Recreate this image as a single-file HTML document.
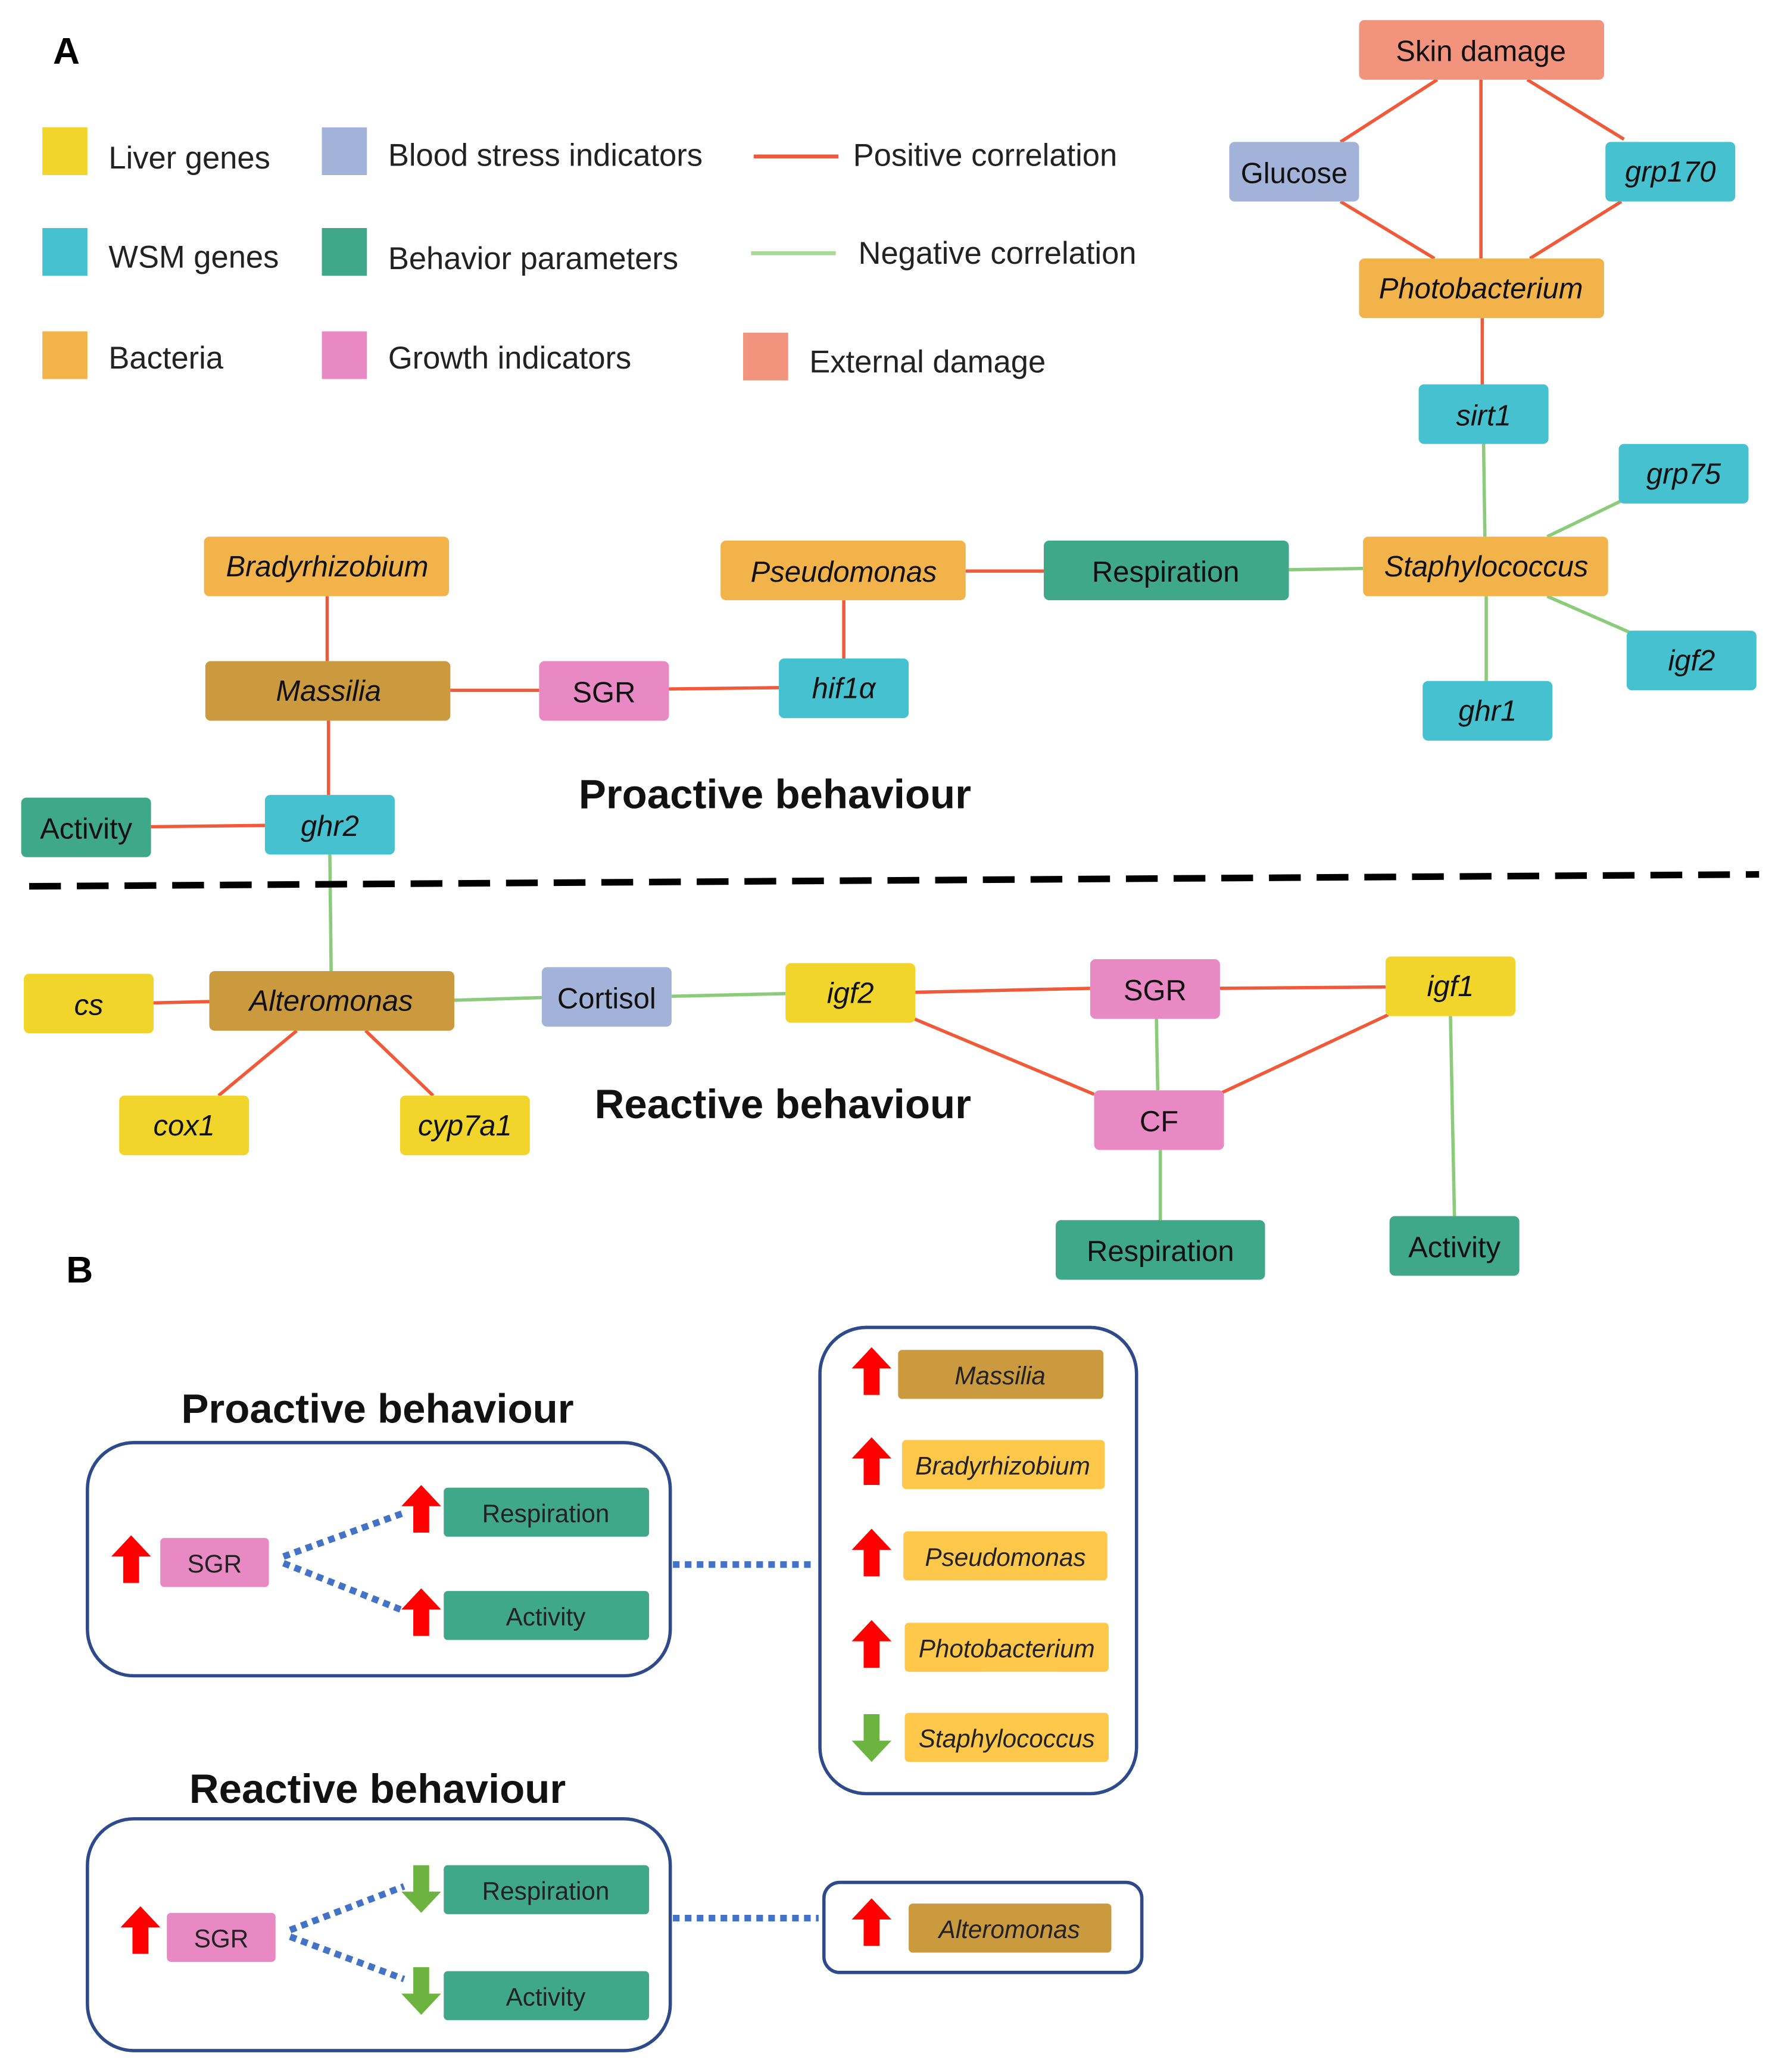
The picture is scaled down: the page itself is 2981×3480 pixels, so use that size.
<!DOCTYPE html>
<html><head><meta charset="utf-8"><style>
html,body{margin:0;padding:0;background:#fff;}
svg{display:block;}
text{font-family:"Liberation Sans",sans-serif;}
</style></head><body>
<svg width="2981" height="3480" viewBox="0 0 1340 1564" xmlns="http://www.w3.org/2000/svg">
<defs>
<symbol id="up" viewBox="0 0 30 36"><polygon points="15,0 30,16 21,16 21,36 9,36 9,16 0,16" fill="#FF0000"/></symbol>
<symbol id="dn" viewBox="0 0 30 36"><polygon points="9,0 21,0 21,20 30,20 15,36 0,20 9,20" fill="#6DB33F"/></symbol>
</defs>
<rect width="1340" height="1564" fill="#fff"/>
<text x="40" y="48" font-size="28" font-weight="bold">A</text>
<text x="50" y="968" font-size="28" font-weight="bold">B</text>
<g font-size="23.6" fill="#222">
<rect x="32" y="96" width="34" height="36" fill="#F2D52B"/><text x="82" y="127">Liver genes</text>
<rect x="32" y="172" width="34" height="36" fill="#45C1D0"/><text x="82" y="202">WSM genes</text>
<rect x="32" y="250" width="34" height="36" fill="#F2B44A"/><text x="82" y="278">Bacteria</text>
<rect x="243" y="96" width="34" height="36" fill="#A2B2D8"/><text x="293" y="125">Blood stress indicators</text>
<rect x="243" y="172" width="34" height="36" fill="#3FA888"/><text x="293" y="203">Behavior parameters</text>
<rect x="243" y="250" width="34" height="36" fill="#E889C4"/><text x="293" y="278">Growth indicators</text>
<line x1="569" y1="118" x2="633" y2="118" stroke="#F05A3A" stroke-width="3"/><text x="644" y="125">Positive correlation</text>
<line x1="567" y1="191" x2="631" y2="191" stroke="#A9D89A" stroke-width="3"/><text x="648" y="199">Negative correlation</text>
<rect x="561" y="251" width="34" height="36" fill="#F2937E"/><text x="611" y="281">External damage</text>
</g>
<g stroke-width="2.5" fill="none">
<g stroke="#F05A3A">
<line x1="1085" y1="60" x2="1012" y2="107"/><line x1="1153" y1="60" x2="1226" y2="105"/>
<line x1="1118" y1="60" x2="1118" y2="195"/>
<line x1="1012" y1="152" x2="1083" y2="195"/><line x1="1224" y1="152" x2="1155" y2="195"/>
<line x1="1119" y1="240" x2="1119" y2="290"/>
<line x1="729" y1="431" x2="788" y2="431"/>
<line x1="637" y1="453" x2="637" y2="497"/>
<line x1="247" y1="450" x2="247" y2="499"/>
<line x1="340" y1="521" x2="407" y2="521"/><line x1="505" y1="520" x2="588" y2="519"/>
<line x1="248" y1="544" x2="248" y2="600"/>
<line x1="114" y1="624" x2="200" y2="623"/>
<line x1="116" y1="757" x2="158" y2="756"/>
<line x1="224" y1="778" x2="165" y2="827"/><line x1="276" y1="778" x2="327" y2="827"/>
<line x1="691" y1="749" x2="823" y2="746"/><line x1="921" y1="746" x2="1046" y2="745"/>
<line x1="690" y1="769" x2="826" y2="826"/><line x1="922" y1="825" x2="1048" y2="766"/>
</g>
<g stroke="#8CCB7C">
<line x1="1120" y1="335" x2="1121" y2="405"/>
<line x1="1168" y1="405" x2="1226" y2="377"/>
<line x1="1168" y1="450" x2="1232" y2="478"/>
<line x1="1122" y1="450" x2="1122" y2="514"/>
<line x1="973" y1="430" x2="1029" y2="429"/>
<line x1="249" y1="645" x2="250" y2="733"/>
<line x1="343" y1="755" x2="409" y2="753"/><line x1="507" y1="752" x2="593" y2="750"/>
<line x1="873" y1="769" x2="874" y2="823"/>
<line x1="876" y1="868" x2="876" y2="921"/>
<line x1="1095" y1="767" x2="1098" y2="918"/>
</g>
</g>
<line x1="22" y1="669" x2="1328" y2="660" stroke="#000" stroke-width="5" stroke-dasharray="24,12"/>
<g font-size="22" text-anchor="middle" fill="#111">
<rect x="1026" y="15" width="185" height="45" rx="4" fill="#F2937E"/><text x="1118" y="46">Skin damage</text>
<rect x="928" y="107" width="98" height="45" rx="4" fill="#A2B2D8"/><text x="977" y="138">Glucose</text>
<rect x="1212" y="107" width="98" height="45" rx="4" fill="#45C1D0"/><text x="1261" y="137" font-style="italic">grp170</text>
<rect x="1026" y="195" width="185" height="45" rx="4" fill="#F2B44A"/><text x="1118" y="225" font-style="italic">Photobacterium</text>
<rect x="1071" y="290" width="98" height="45" rx="4" fill="#45C1D0"/><text x="1120" y="321" font-style="italic">sirt1</text>
<rect x="1222" y="335" width="98" height="45" rx="4" fill="#45C1D0"/><text x="1271" y="365" font-style="italic">grp75</text>
<rect x="1029" y="405" width="185" height="45" rx="4" fill="#F2B44A"/><text x="1122" y="435" font-style="italic">Staphylococcus</text>
<rect x="1228" y="476" width="98" height="45" rx="4" fill="#45C1D0"/><text x="1277" y="506" font-style="italic">igf2</text>
<rect x="1074" y="514" width="98" height="45" rx="4" fill="#45C1D0"/><text x="1123" y="544" font-style="italic">ghr1</text>
<rect x="788" y="408" width="185" height="45" rx="4" fill="#3FA888"/><text x="880" y="439">Respiration</text>
<rect x="544" y="408" width="185" height="45" rx="4" fill="#F2B44A"/><text x="637" y="439" font-style="italic">Pseudomonas</text>
<rect x="154" y="405" width="185" height="45" rx="4" fill="#F2B44A"/><text x="247" y="435" font-style="italic">Bradyrhizobium</text>
<rect x="155" y="499" width="185" height="45" rx="4" fill="#CC9A3E"/><text x="248" y="529" font-style="italic">Massilia</text>
<rect x="407" y="499" width="98" height="45" rx="4" fill="#E889C4"/><text x="456" y="530">SGR</text>
<rect x="588" y="497" width="98" height="45" rx="4" fill="#45C1D0"/><text x="637" y="527" font-style="italic">hif1α</text>
<rect x="16" y="602" width="98" height="45" rx="4" fill="#3FA888"/><text x="65" y="633">Activity</text>
<rect x="200" y="600" width="98" height="45" rx="4" fill="#45C1D0"/><text x="249" y="631" font-style="italic">ghr2</text>
<rect x="158" y="733" width="185" height="45" rx="4" fill="#CC9A3E"/><text x="250" y="763" font-style="italic">Alteromonas</text>
<rect x="18" y="735" width="98" height="45" rx="4" fill="#F2D52B"/><text x="67" y="766" font-style="italic">cs</text>
<rect x="409" y="730" width="98" height="45" rx="4" fill="#A2B2D8"/><text x="458" y="761">Cortisol</text>
<rect x="593" y="727" width="98" height="45" rx="4" fill="#F2D52B"/><text x="642" y="757" font-style="italic">igf2</text>
<rect x="823" y="724" width="98" height="45" rx="4" fill="#E889C4"/><text x="872" y="755">SGR</text>
<rect x="1046" y="722" width="98" height="45" rx="4" fill="#F2D52B"/><text x="1095" y="752" font-style="italic">igf1</text>
<rect x="826" y="823" width="98" height="45" rx="4" fill="#E889C4"/><text x="875" y="854">CF</text>
<rect x="90" y="827" width="98" height="45" rx="4" fill="#F2D52B"/><text x="139" y="857" font-style="italic">cox1</text>
<rect x="302" y="827" width="98" height="45" rx="4" fill="#F2D52B"/><text x="351" y="857" font-style="italic">cyp7a1</text>
<rect x="797" y="921" width="158" height="45" rx="4" fill="#3FA888"/><text x="876" y="952">Respiration</text>
<rect x="1049" y="918" width="98" height="45" rx="4" fill="#3FA888"/><text x="1098" y="949">Activity</text>
</g>
<g font-size="31" font-weight="bold" text-anchor="middle" fill="#111">
<text x="585" y="610">Proactive behaviour</text>
<text x="591" y="844">Reactive behaviour</text>
<text x="285" y="1074">Proactive behaviour</text>
<text x="285" y="1361">Reactive behaviour</text>
</g>
<g fill="none" stroke="#2F4A8A" stroke-width="2.5">
<rect x="66" y="1089" width="440" height="176" rx="35"/>
<rect x="66" y="1373" width="440" height="175" rx="35"/>
<rect x="619" y="1002" width="239" height="352" rx="35"/>
<rect x="622" y="1421" width="240" height="68" rx="12"/>
</g>
<g stroke="#4472C4" stroke-width="5" stroke-dasharray="5,4" fill="none">
<line x1="214" y1="1175" x2="305" y2="1142"/><line x1="214" y1="1180" x2="305" y2="1216"/>
<line x1="219" y1="1457" x2="305" y2="1424"/><line x1="219" y1="1462" x2="305" y2="1494"/>
<line x1="508" y1="1181" x2="612" y2="1181"/><line x1="508" y1="1448" x2="618" y2="1448"/>
</g>
<g font-size="19" text-anchor="middle" fill="#222">
<rect x="121" y="1161" width="82" height="37" rx="3" fill="#E889C4"/><text x="162" y="1187">SGR</text>
<rect x="335" y="1123" width="155" height="37" rx="3" fill="#3FA888"/><text x="412" y="1149">Respiration</text>
<rect x="335" y="1201" width="155" height="37" rx="3" fill="#3FA888"/><text x="412" y="1227">Activity</text>
<rect x="126" y="1444" width="82" height="37" rx="3" fill="#E889C4"/><text x="167" y="1470">SGR</text>
<rect x="335" y="1408" width="155" height="37" rx="3" fill="#3FA888"/><text x="412" y="1434">Respiration</text>
<rect x="335" y="1488" width="155" height="37" rx="3" fill="#3FA888"/><text x="412" y="1514">Activity</text>
<g font-style="italic">
<rect x="678" y="1019" width="155" height="37" rx="3" fill="#CC9A3E"/><text x="755" y="1045">Massilia</text>
<rect x="681" y="1087" width="153" height="37" rx="3" fill="#FFC84A"/><text x="757" y="1113">Bradyrhizobium</text>
<rect x="682" y="1156" width="154" height="37" rx="3" fill="#FFC84A"/><text x="759" y="1182">Pseudomonas</text>
<rect x="683" y="1225" width="154" height="37" rx="3" fill="#FFC84A"/><text x="760" y="1251">Photobacterium</text>
<rect x="683" y="1293" width="154" height="37" rx="3" fill="#FFC84A"/><text x="760" y="1319">Staphylococcus</text>
<rect x="686" y="1437" width="153" height="37" rx="3" fill="#CC9A3E"/><text x="762" y="1463">Alteromonas</text>
</g>
</g>
<use href="#up" x="84" y="1159" width="30" height="36"/>
<use href="#up" x="303" y="1121" width="30" height="36"/>
<use href="#up" x="303" y="1199" width="30" height="36"/>
<use href="#up" x="91" y="1439" width="30" height="36"/>
<use href="#dn" x="303" y="1408" width="30" height="36"/>
<use href="#dn" x="303" y="1485" width="30" height="36"/>
<use href="#up" x="643" y="1017" width="30" height="36"/>
<use href="#up" x="643" y="1085" width="30" height="36"/>
<use href="#up" x="643" y="1154" width="30" height="36"/>
<use href="#up" x="643" y="1223" width="30" height="36"/>
<use href="#dn" x="643" y="1294" width="30" height="36"/>
<use href="#up" x="643" y="1433" width="30" height="36"/>
</svg>
</body></html>
